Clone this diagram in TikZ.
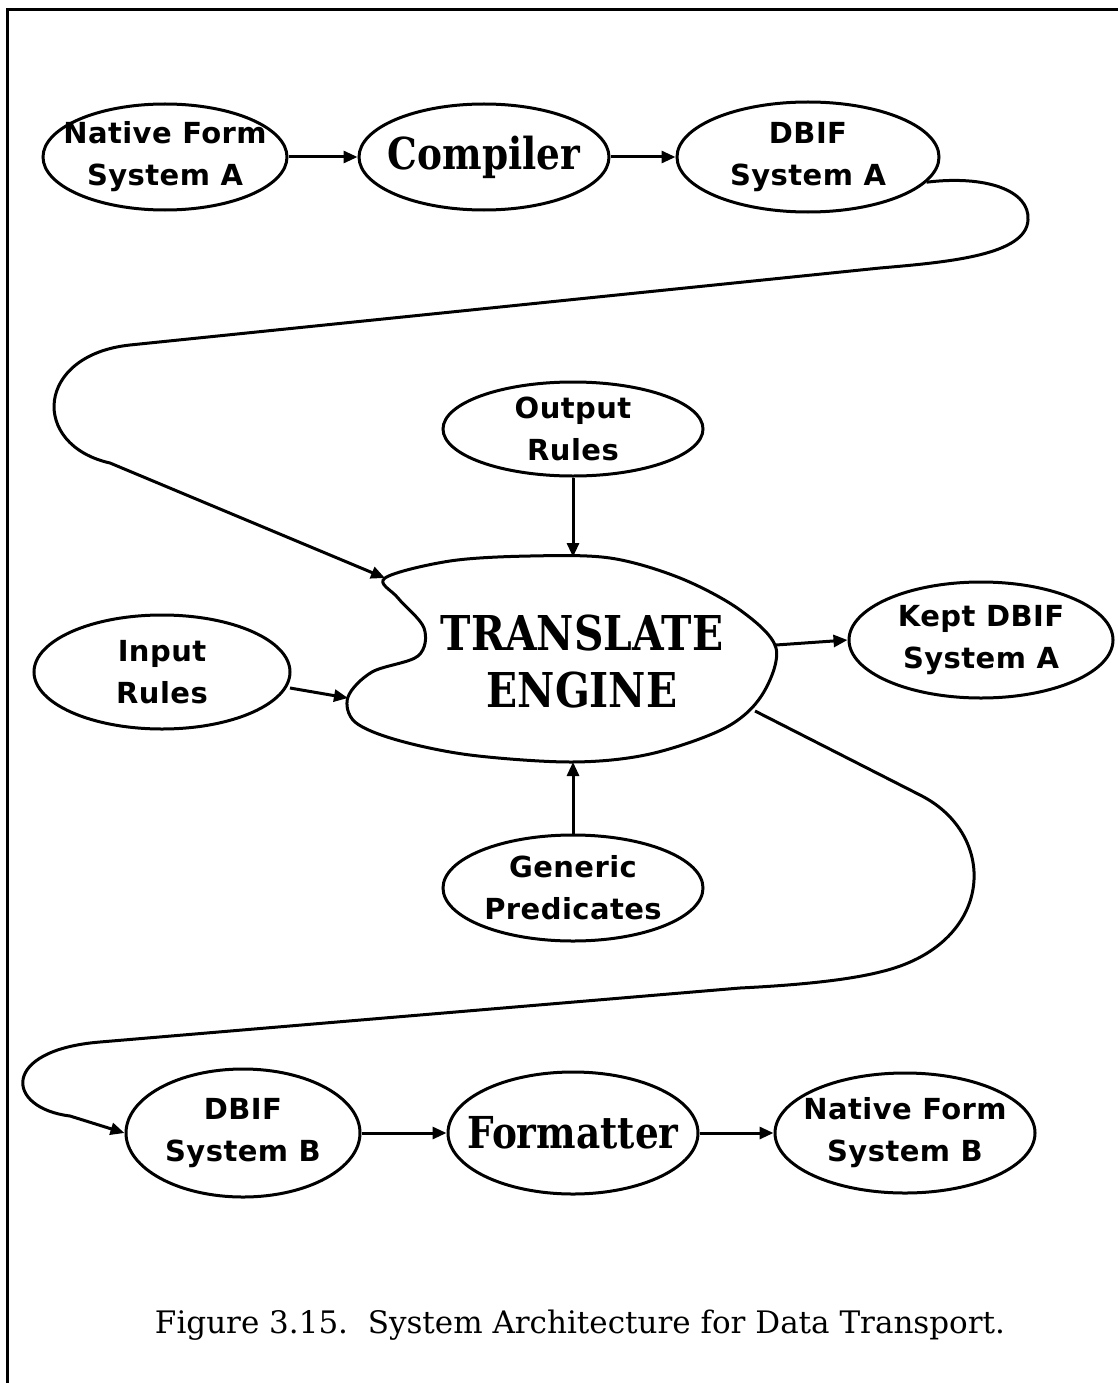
\documentclass[tikz,border=0pt]{standalone}
\usepackage{fontspec}
\setmainfont{DejaVu Serif}
\newfontfamily\labfont{DejaVu Sans}[LetterSpace=1.5]
\newfontfamily\bigfont{DejaVu Serif}[FakeStretch=0.85]
\usetikzlibrary{shapes.geometric,arrows.meta}
\begin{document}
\begin{tikzpicture}[x=1pt,y=-1pt,
  line width=3pt,
  ov/.style={draw, line width=3pt, ellipse, inner xsep=-150pt, inner ysep=-150pt, align=center,
    font=\labfont\bfseries\fontsize{29}{42}\selectfont},
  bigov/.style={ov, font=\bigfont\bfseries\fontsize{44}{50}\selectfont},
  conn/.style={-{Triangle[length=14pt,width=12pt]}, line width=3pt},
]
\useasboundingbox (0,0) rectangle (1118,1383);
% frame (top and left edges)
\draw[line width=3pt] (1118,10) -- (7,10) -- (7,1383);

% nodes
\node[ov, minimum width=244pt, minimum height=106pt] (nfa) at (165,157) {Native Form\\System A};
\node[bigov, minimum width=250pt, minimum height=106pt] (comp) at (484,157) {Compiler};
\node[ov, minimum width=262pt, minimum height=110pt] (dbifa) at (808,157) {DBIF\\System A};
\node[ov, minimum width=260pt, minimum height=94pt] (outr) at (573,429) {Output\\Rules};
\node[ov, minimum width=256pt, minimum height=114pt] (inr) at (162,672) {Input\\Rules};
\node[ov, minimum width=264pt, minimum height=116pt] (kept) at (981,640) {Kept DBIF\\System A};
\node[ov, minimum width=260pt, minimum height=106pt] (gen) at (573,888) {Generic\\Predicates};
\node[ov, minimum width=234pt, minimum height=128pt] (dbifb) at (243,1133) {DBIF\\System B};
\node[bigov, minimum width=250pt, minimum height=122pt] (fmt) at (573,1133) {Formatter};
\node[ov, minimum width=260pt, minimum height=120pt] (nfb) at (905,1133) {Native Form\\System B};

% translate engine blob
\draw plot[smooth cycle, tension=0.55] coordinates {
  (385,578) (450,561) (530,556) (610,558) (680,578) (740,610) (776,648)
  (762,695) (725,728) (650,754) (572,762) (470,755) (397,740)
  (355,722) (348,697) (372,672) (418,656) (424,628) (398,598)};
\node[align=center, font=\bigfont\bfseries\fontsize{48}{57}\selectfont] (te) at (582,662) {TRANSLATE\\ENGINE};
\coordinate (teA) at (385,578);
\coordinate (teOut) at (573,557);
\coordinate (teIn) at (348,698);
\coordinate (teGen) at (573,762);
\coordinate (teKept) at (776,645);
\coordinate (teB) at (755,711);

% connectors
\draw[conn] (nfa.east) -- (comp.west);
\draw[conn] (comp.east) -- (dbifa.west);
\draw[conn] (dbifa.-12) .. controls (985,175) and (1030,190) .. (1028,220)
  .. controls (1026,255) and (950,262) .. (880,268) -- (130,345)
  .. controls (35,355) and (30,445) .. (110,463) -- (teA);
\draw[conn] (outr.south) -- (teOut);
\draw[conn] (290,688) -- (teIn);
\draw[conn] (gen.north) -- (teGen);
\draw[conn] (teKept) -- (kept.west);
\draw[conn] (teB) -- (920,795) .. controls (1000,835) and (995,945) .. (880,972)
  .. controls (840,982) and (780,986) .. (740,988) -- (100,1042)
  .. controls (0,1050) and (5,1108) .. (70,1116) -- (dbifb.west);
\draw[conn] (dbifb.east) -- (fmt.west);
\draw[conn] (fmt.east) -- (nfb.west);

% caption
\node[font=\fontsize{31}{36}\selectfont] (cap) at (580,1325) {Figure 3.15.\ \ System Architecture for Data Transport.};
\end{tikzpicture}
\end{document}
